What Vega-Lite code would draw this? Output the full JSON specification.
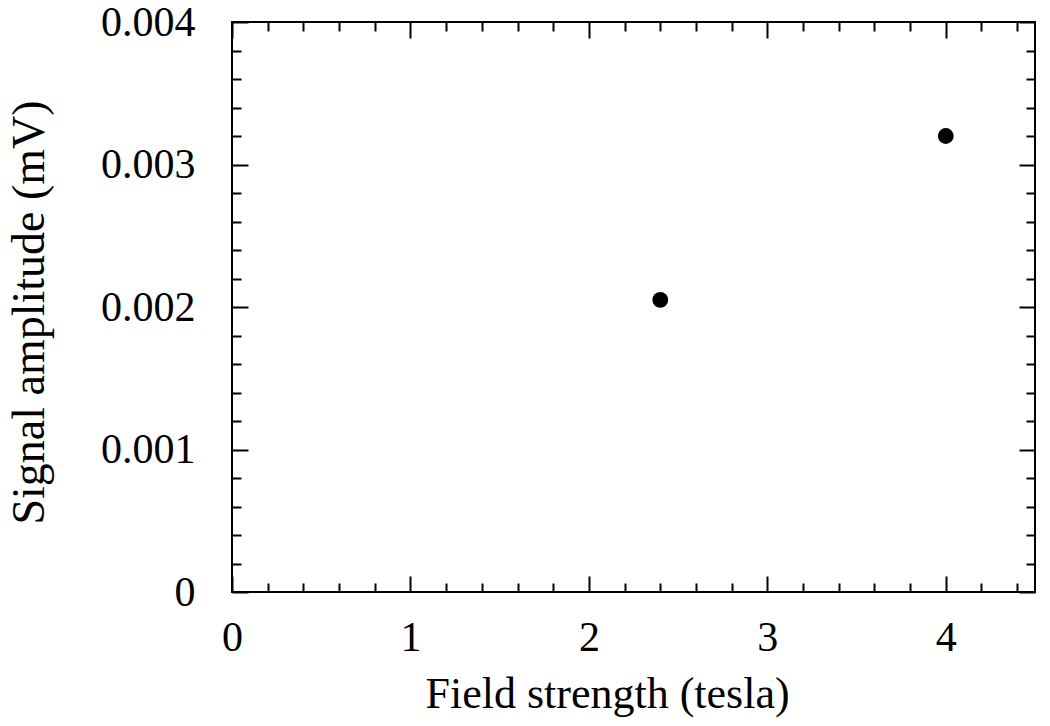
{
  "$schema": "https://vega.github.io/schema/vega-lite/v6.json",
  "autosize": {"type": "none"},
  "padding": {"left": 232, "top": 22, "right": 15, "bottom": 134},
  "width": 803,
  "height": 570,
  "background": "white",
  "config": {
    "view": {"stroke": "black", "strokeWidth": 2},
    "font": "Liberation Serif",
    "axis": {"domain": false, "grid": false, "labelFont": "Liberation Serif", "titleFont": "Liberation Serif", "labelColor": "black", "titleColor": "black", "labelFontSize": 42, "titleFontSize": 44, "titleFontWeight": "normal", "tickColor": "black", "tickWidth": 2, "labelFlush": false, "labelOverlap": false}
  },
  "data": {"values": [
    {"field": 2.4, "amplitude": 0.00205},
    {"field": 4.0, "amplitude": 0.0032}
  ]},
  "resolve": {"axis": {"x": "independent", "y": "independent"}},
  "layer": [
    {
      "mark": {"type": "point", "filled": true, "color": "black", "size": 250, "opacity": 1},
      "encoding": {
        "x": {"field": "field", "type": "quantitative", "scale": {"domain": [0, 4.5], "nice": false, "zero": true},
          "axis": {"orient": "bottom", "title": "Field strength (tesla)", "values": [0,0.2,0.4,0.6,0.8,1,1.2,1.4,1.6,1.8,2,2.2,2.4,2.6,2.8,3,3.2,3.4,3.6,3.8,4,4.2,4.4],
            "format": ".1~f",
            "labelExpr": "abs(datum.value - round(datum.value)) < 1e-6 ? datum.label : ''",
            "tickSize": {"condition": {"test": "abs(datum.value - round(datum.value)) < 1e-6", "value": -16}, "value": -9},
            "labelPadding": 41, "titleX": 375, "titleY": 115, "titleBaseline": "alphabetic", "titleAlign": "center"}},
        "y": {"field": "amplitude", "type": "quantitative", "scale": {"domain": [0, 0.004], "nice": false},
          "axis": {"orient": "left", "title": "Signal amplitude (mV)", "values": [0,0.0002,0.0004,0.0006,0.0008,0.001,0.0012,0.0014,0.0016,0.0018,0.002,0.0022,0.0024,0.0026,0.0028,0.003,0.0032,0.0034,0.0036,0.0038,0.004],
            "format": ".3~f",
            "labelExpr": "abs(datum.value*1000 - round(datum.value*1000)) < 1e-6 ? datum.label : ''",
            "tickSize": {"condition": {"test": "abs(datum.value*1000 - round(datum.value*1000)) < 1e-6", "value": -16}, "value": -9},
            "labelPadding": 53, "titleFontSize": 46, "titleX": -189, "titleY": 290, "titleBaseline": "alphabetic", "titleAngle": -90, "titleAlign": "center"}}
      }
    },
    {
      "mark": {"type": "point", "filled": true, "color": "black", "size": 250, "opacity": 0},
      "encoding": {
        "x": {"field": "field", "type": "quantitative",
          "axis": {"orient": "top", "title": null, "labels": false, "values": [0,0.2,0.4,0.6,0.8,1,1.2,1.4,1.6,1.8,2,2.2,2.4,2.6,2.8,3,3.2,3.4,3.6,3.8,4,4.2,4.4],
            "tickSize": {"condition": {"test": "abs(datum.value - round(datum.value)) < 1e-6", "value": -16}, "value": -9}}},
        "y": {"field": "amplitude", "type": "quantitative",
          "axis": {"orient": "right", "title": null, "labels": false, "values": [0,0.0002,0.0004,0.0006,0.0008,0.001,0.0012,0.0014,0.0016,0.0018,0.002,0.0022,0.0024,0.0026,0.0028,0.003,0.0032,0.0034,0.0036,0.0038,0.004],
            "tickSize": {"condition": {"test": "abs(datum.value*1000 - round(datum.value*1000)) < 1e-6", "value": -16}, "value": -9}}}
      }
    }
  ]
}
